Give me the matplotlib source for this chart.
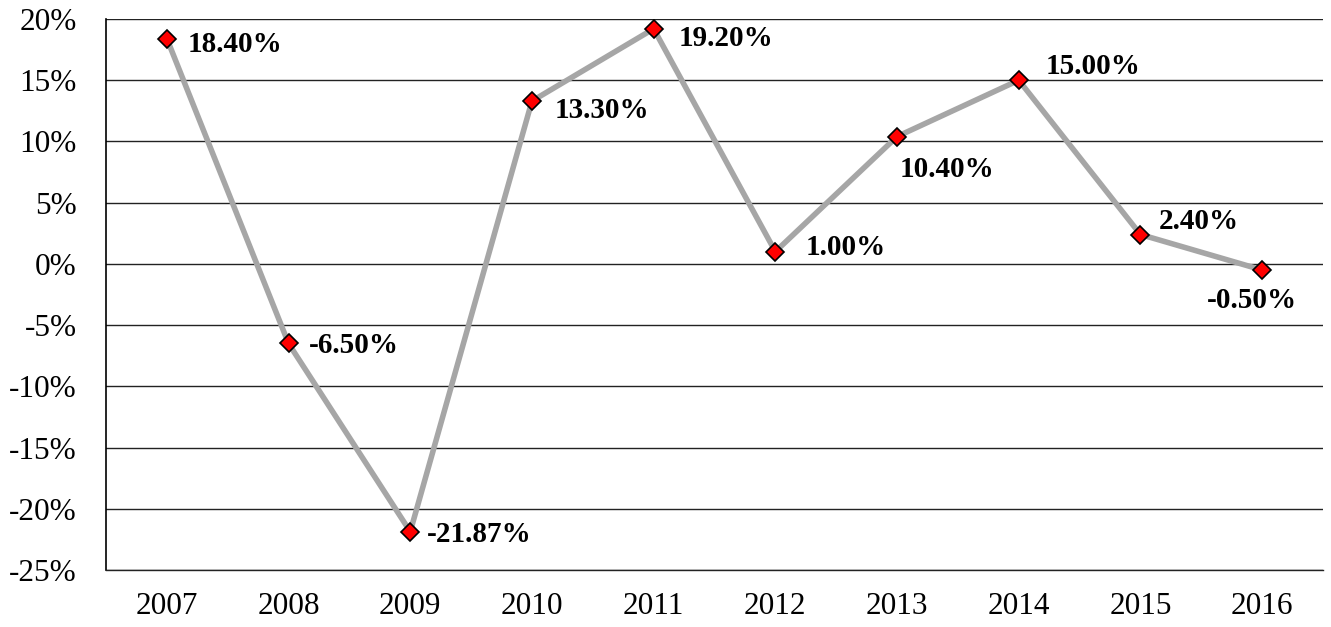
import matplotlib
matplotlib.use("Agg")
import matplotlib.pyplot as plt
from matplotlib.ticker import FuncFormatter

years = ["2007", "2008", "2009", "2010", "2011", "2012", "2013", "2014", "2015", "2016"]
growth = [18.40, -6.50, -21.87, 13.30, 19.20, 1.00, 10.40, 15.00, 2.40, -0.50]
labels = ["18.40%", "-6.50%", "-21.87%", "13.30%", "19.20%", "1.00%",
          "10.40%", "15.00%", "2.40%", "-0.50%"]

# label offsets in pixels (dx, dy) and horizontal alignment
offsets = [(21, -6, "left"), (20, -2, "left"), (17, -3, "left"), (23, -9, "left"),
           (25, -10, "left"), (30, 4, "left"), (3, -33, "left"), (27, 14, "left"),
           (18, 13, "left"), (-10, -30, "center")]

plt.rcParams["font.family"] = ["Liberation Serif", "DejaVu Serif"]

fig = plt.figure(figsize=(13.31, 6.27), dpi=100)
ax = fig.add_axes([106 / 1331, 57 / 627, (1323 - 106) / 1331, (570 - 19) / 627])

x = list(range(len(years)))
ax.plot(x, growth, color="#A6A6A6", lw=4.0, zorder=3,
        marker="D", markersize=9, markerfacecolor="#FF0000",
        markeredgecolor="black", markeredgewidth=1.2)

for xi, yi, lab, (dx, dy, ha) in zip(x, growth, labels, offsets):
    ax.annotate(lab, (xi, yi), xytext=(dx, dy), textcoords="offset pixels",
                ha=ha, va="center", fontsize=21, fontweight="bold", zorder=4)

ax.set_xlim(-0.5, len(years) - 0.5)
ax.set_ylim(-25, 20)
ax.set_yticks(range(-25, 21, 5))
ax.yaxis.set_major_formatter(FuncFormatter(lambda v, p: f"{int(v)}%"))
ax.set_xticks(x)
ax.set_xticklabels(years)
ax.tick_params(axis="both", length=0, labelsize=22.5)
ax.tick_params(axis="y", pad=21)
ax.tick_params(axis="x", pad=16)

ax.grid(axis="y", color="#222222", lw=1.0, zorder=1)
ax.set_axisbelow(True)
for side in ["top", "right"]:
    ax.spines[side].set_visible(False)
ax.spines["left"].set_color("black")
ax.spines["left"].set_linewidth(1.2)
ax.spines["bottom"].set_color("#222222")
ax.spines["bottom"].set_linewidth(1.0)

fig.savefig("out.png", dpi=100)
